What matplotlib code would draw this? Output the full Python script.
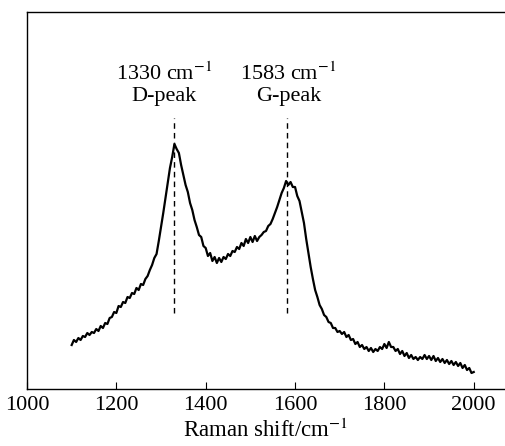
import matplotlib
matplotlib.use("Agg")
import matplotlib.pyplot as plt

plt.rcParams['font.family'] = ['Liberation Serif', 'DejaVu Serif']
plt.rcParams['mathtext.fontset'] = 'stix'

shift = list(range(1100, 2005, 5))
intensity = [
    44, 49, 47, 51, 49, 53, 52, 56, 54, 57, 56, 60, 58, 63, 61, 66, 65, 71, 72, 77,
    76, 83, 82, 87, 86, 92, 91, 96, 95, 101, 99, 105, 104, 110, 113, 119, 124, 131, 135, 148,
    162, 176, 191, 206, 221, 232, 245, 240, 236, 224, 214, 204, 197, 186, 179, 169, 162, 154, 152, 143,
    141, 133, 136, 128, 132, 126, 131, 127, 132, 130, 135, 133, 138, 137, 142, 140, 146, 143, 150, 146,
    152, 147, 153, 148, 152, 154, 157, 158, 163, 165, 170, 176, 182, 189, 196, 201, 208, 204, 207, 202,
    202, 193, 188, 177, 166, 150, 136, 122, 110, 99, 92, 84, 80, 74, 72, 67, 66, 61, 61, 57,
    58, 55, 57, 52, 54, 49, 50, 45, 47, 42, 44, 40, 42, 38, 41, 37, 40, 38, 42, 40,
    45, 41, 47, 42, 42, 38, 40, 35, 38, 33, 36, 31, 34, 30, 32, 29, 32, 30, 34, 30,
    33, 29, 33, 28, 31, 27, 30, 26, 29, 25, 28, 24, 27, 23, 26, 21, 24, 19, 21, 16,
    17,
]

peak_pos = [1330, 1583]
peak_names = ["D-peak", "G-peak"]
peak_wn = ["1330", "1583"]
xticks = [1000, 1200, 1400, 1600, 1800, 2000]

fig = plt.figure(figsize=(5.05, 4.46), dpi=100)
ax = fig.add_axes([27 / 505, 1 - 389 / 446, 1 - 27 / 505, (389 - 12) / 446])

ax.plot(shift, intensity, color='black', lw=1.6)

for p in peak_pos:
    ax.plot([p, p], [76, 271], color='black', lw=1.0, linestyle=(0, (4, 3)))

text_x = [1306, 1585]
for tx, wn, name in zip(text_x, peak_wn, peak_names):
    ax.text(tx, 309, wn + r" cm$^{-1}$", ha='center', va='baseline', fontsize=16)
    ax.text(tx, 288, name, ha='center', va='baseline', fontsize=16)

ax.set_xlim(1000, 2070)
ax.set_ylim(0, 377)
ax.set_xticks(xticks)
ax.set_yticks([])
ax.tick_params(axis='x', direction='in', length=5, labelsize=16, pad=5)
ax.spines['right'].set_visible(False)
for s in ['left', 'top', 'bottom']:
    ax.spines[s].set_linewidth(1.0)
ax.set_xlabel(r"Raman shift/cm$^{-1}$", fontsize=16.5, labelpad=3)

fig.savefig("out.png", dpi=100)
